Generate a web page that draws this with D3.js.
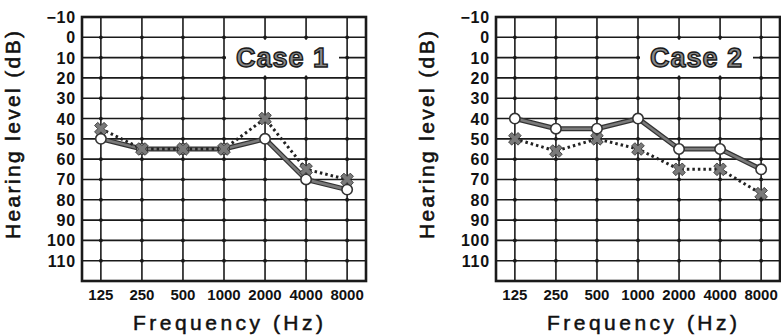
<!DOCTYPE html>
<html>
<head>
<meta charset="utf-8">
<script src="https://cdn.jsdelivr.net/npm/d3@7"></script>
<style>
body { margin: 0; background: #fff; }
svg { display: block; font-family: "Liberation Sans", Arial, sans-serif; }
</style>
</head>
<body>
<svg id="chart" width="781" height="335"></svg>
<script>
var freqs = ["125", "250", "500", "1000", "2000", "4000", "8000"]
var dbTicks = [-10, 0, 10, 20, 30, 40, 50, 60, 70, 80, 90, 100, 110]

var case1Circle = [50, 55, 55, 55, 50, 70, 75]
var case1Cross = [45, 55, 55, 55, 40, 65, 70]
var case2Circle = [40, 45, 45, 40, 55, 55, 65]
var case2Cross = [50, 56, 50, 55, 65, 65, 77]

var caseNames = ["Case 1", "Case 2"]

var svg = d3.select("#chart")

function drawPanel(left, name, circ, cross) {
    var right = left + 284
    var top = 17, bottom = 281

    var x = d3.scalePoint().domain(freqs).range([left, right]).padding(0.46)
    var y = d3.scaleLinear().domain([-10, 120]).range([top, bottom])

    var g = svg.append("g")

    // grid
    g.selectAll("line.h").data(dbTicks.slice(1))
	.enter().append("line")
	.attr("x1", left).attr("x2", right)
	.attr("y1", function(d){return y(d)}).attr("y2", function(d){return y(d)})
	.attr("stroke", "#1a1a1a").attr("stroke-width", 1.6)

    g.selectAll("line.v").data(freqs)
	.enter().append("line")
	.attr("x1", function(d){return x(d)}).attr("x2", function(d){return x(d)})
	.attr("y1", top).attr("y2", bottom)
	.attr("stroke", "#1a1a1a").attr("stroke-width", 1.6)

    // little dots where grid lines cross
    var pts = []
    freqs.forEach(function(f){ dbTicks.slice(1).forEach(function(v){ pts.push([f, v]) }) })
    g.selectAll("circle.dot").data(pts)
	.enter().append("circle")
	.attr("cx", function(d){return x(d[0])})
	.attr("cy", function(d){return y(d[1])})
	.attr("r", 1.9).attr("fill", "#1a1a1a")

    g.append("rect")
	.attr("x", left).attr("y", top)
	.attr("width", right - left).attr("height", bottom - top)
	.attr("fill", "none").attr("stroke", "#1a1a1a").attr("stroke-width", 2.6)

    // case label box
    var bx0 = right - 140, bx1 = right - 27
    g.append("rect")
	.attr("x", bx0).attr("y", y(0) + 2.5)
	.attr("width", bx1 - bx0).attr("height", y(20) - y(0) - 5)
	.attr("fill", "#fff")
    g.append("text")
	.attr("x", (bx0 + bx1) / 2).attr("y", y(10) + 9.5)
	.attr("text-anchor", "middle")
	.attr("font-size", 27).attr("font-weight", "bold")
	.attr("letter-spacing", 1)
	.attr("fill", "#8a8a8a").attr("stroke", "#1a1a1a").attr("stroke-width", 1.4)
	.text(name)

    // y tick labels
    g.selectAll("text.yt").data(dbTicks)
	.enter().append("text")
	.attr("x", left - 6).attr("y", function(d){return y(d) + 6})
	.attr("text-anchor", "end")
	.attr("font-size", 16).attr("font-weight", "bold").attr("letter-spacing", 0.8)
	.attr("fill", "#111")
	.text(function(d){return d < 0 ? "\u2212" + Math.abs(d) : d})

    // x tick labels
    g.selectAll("text.xt").data(freqs)
	.enter().append("text")
	.attr("x", function(d){return x(d)}).attr("y", 300)
	.attr("text-anchor", "middle")
	.attr("font-size", 15).attr("font-weight", "bold")
	.attr("fill", "#111")
	.text(function(d){return d})

    // axis titles
    g.append("text")
	.attr("x", (left + right) / 2 + 4).attr("y", 330)
	.attr("text-anchor", "middle")
	.attr("font-size", 21).attr("fill", "#111")
	.attr("stroke", "#111").attr("stroke-width", 0.5)
	.attr("textLength", 190).attr("lengthAdjust", "spacing")
	.text("Frequency (Hz)")

    g.append("text")
	.attr("transform", "translate(" + (left - 62) + "," + 135 + ") rotate(-90)")
	.attr("text-anchor", "middle")
	.attr("font-size", 21).attr("fill", "#111")
	.attr("stroke", "#111").attr("stroke-width", 0.6)
	.attr("textLength", 208).attr("lengthAdjust", "spacing")
	.text("Hearing level (dB)")

    var line = d3.line()
	.x(function(d,i){return x(freqs[i])})
	.y(function(d){return y(d)})

    // solid line: dark edge with gray core
    g.append("path").datum(circ)
	.attr("d", line)
	.attr("fill", "none").attr("stroke", "#333").attr("stroke-width", 5)
    g.append("path").datum(circ)
	.attr("d", line)
	.attr("fill", "none").attr("stroke", "#7a7a7a").attr("stroke-width", 2.6)

    g.append("path").datum(cross)
	.attr("d", line)
	.attr("fill", "none").attr("stroke", "#222").attr("stroke-width", 3)
	.attr("stroke-dasharray", "2.5,3")

    g.selectAll("circle.o").data(circ)
	.enter().append("circle")
	.attr("cx", function(d,i){return x(freqs[i])})
	.attr("cy", function(d){return y(d)})
	.attr("r", 5.2)
	.attr("fill", "#fff").attr("stroke", "#333").attr("stroke-width", 1.6)

    var sym = d3.symbol().type(d3.symbolCross).size(100)
    g.selectAll("path.x").data(cross)
	.enter().append("path")
	.attr("d", sym)
	.attr("transform", function(d,i){return "translate(" + x(freqs[i]) + "," + y(d) + ") rotate(45)"})
	.attr("fill", "#7a7a7a").attr("stroke", "#333").attr("stroke-width", 0.8)
}

drawPanel(82, caseNames[0], case1Circle, case1Cross)
drawPanel(496, caseNames[1], case2Circle, case2Cross)
</script>
</body>
</html>
